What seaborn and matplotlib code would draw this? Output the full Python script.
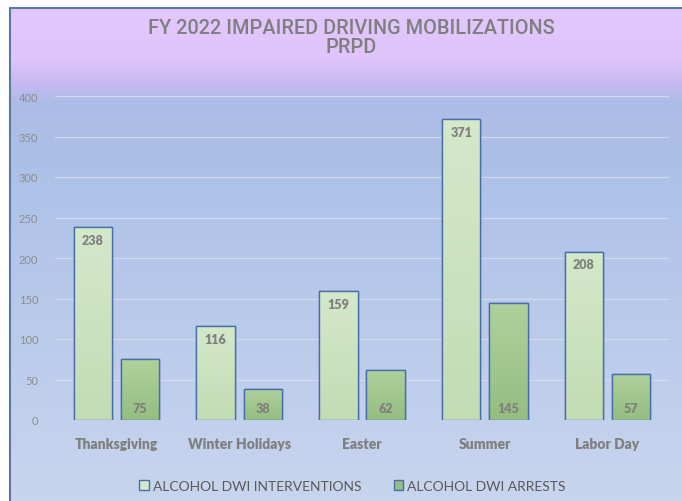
import numpy as np
import pandas as pd
import matplotlib
matplotlib.use("Agg")
import matplotlib.pyplot as plt
import seaborn as sns
from matplotlib.colors import LinearSegmentedColormap
from matplotlib.patches import Rectangle

sns.set_style("white")
plt.rcParams["font.family"] = ["Lato", "DejaVu Sans"]

categories = ["Thanksgiving", "Winter Holidays", "Easter", "Summer", "Labor Day"]
interventions = [238, 116, 159, 371, 208]
arrests = [75, 38, 62, 145, 57]
series = ["ALCOHOL DWI INTERVENTIONS", "ALCOHOL DWI ARRESTS"]
yticks = [0, 50, 100, 150, 200, 250, 300, 350, 400]

df = pd.DataFrame({
    "event": categories * 2,
    "series": [series[0]] * len(categories) + [series[1]] * len(categories),
    "value": interventions + arrests,
})

gray = "#7f7f7f"
edge = "#4a6eaa"
light_green = ("#d4e8ca", "#c2dcb4")
dark_green = ("#afd19c", "#95be80")

fig = plt.figure(figsize=(6.82, 5.02), dpi=100)

# background panel with vertical gradient
bg = fig.add_axes([10 / 682, 0, 1 - 10 / 682, 1 - 9 / 502], zorder=0)
stops = [(0.0, (226, 199, 252)), (0.1, (224, 197, 251)), (0.15, (200, 185, 242)),
         (0.19, (174, 188, 230)), (0.3, (172, 192, 231)), (1.0, (200, 213, 238))]
cmap_bg = LinearSegmentedColormap.from_list(
    "bg", [(p, tuple(c / 255 for c in col)) for p, col in stops])
bg.imshow(np.linspace(0, 1, 256).reshape(-1, 1), aspect="auto", cmap=cmap_bg,
          extent=[0, 1, 0, 1], origin="upper")
bg.set_xlim(0, 1)
bg.set_ylim(0, 1)
bg.axis("off")
fig.add_artist(plt.Line2D([10 / 682, 1], [1 - 9 / 502, 1 - 9 / 502], color="#5b77a8",
                          lw=1.5, transform=fig.transFigure))
fig.add_artist(plt.Line2D([10 / 682, 10 / 682], [0, 1 - 9 / 502], color="#5b77a8",
                          lw=1.5, transform=fig.transFigure))

ax = fig.add_axes([55 / 682, 81 / 502, 614 / 682, 324 / 502], zorder=1)
ax.patch.set_alpha(0)

sns.barplot(data=df, x="event", y="value", hue="series", ax=ax,
            palette=[light_green[1], dark_green[1]], width=0.77, gap=0.19,
            edgecolor=edge, linewidth=1, legend=False)

ax.set_ylim(0, 400)
ax.set_yticks(yticks)
ax.grid(axis="y", color="#d6e0f2", lw=0.9, alpha=0.8)
ax.set_axisbelow(True)
for s in ax.spines.values():
    s.set_visible(False)
ax.set_xlabel("")
ax.set_ylabel("")
ax.tick_params(axis="y", length=0, pad=12, labelsize=8, labelcolor="#8c8c8c")
ax.tick_params(axis="x", length=0, pad=12, labelsize=10, labelcolor=gray)
for lbl in ax.get_xticklabels():
    lbl.set_fontweight("heavy")

# gradient fill inside each bar
for container, cols, vals in zip(ax.containers, [light_green, dark_green],
                                 [interventions, arrests]):
    cm = LinearSegmentedColormap.from_list("g", [cols[0], cols[1]])
    for patch, v in zip(container.patches, vals):
        x0, w = patch.get_x(), patch.get_width()
        im = ax.imshow(np.linspace(0, 1, 64).reshape(-1, 1), aspect="auto", cmap=cm,
                       extent=[x0, x0 + w, 0, patch.get_height()], origin="upper",
                       zorder=patch.get_zorder() + 0.1)
        im.set_clip_path(patch)
        ax.add_patch(Rectangle((x0, 0), w, patch.get_height(), fill=False,
                               edgecolor=edge, lw=1, zorder=patch.get_zorder() + 0.2))
        cx = x0 + w / 2
        if cols is light_green:
            ax.annotate(str(v), xy=(cx, v), xytext=(0, -5), textcoords="offset points",
                        ha="center", va="top", fontsize=9, fontweight="heavy",
                        color=gray, zorder=5)
        else:
            ax.annotate(str(v), xy=(cx, 0), xytext=(0, 4), textcoords="offset points",
                        ha="center", va="bottom", fontsize=9, fontweight="heavy",
                        color=gray, zorder=5)
ax.set_xlim(-0.5, len(categories) - 0.5)

fig.text(0.515, 0.944, "FY 2022 IMPAIRED DRIVING MOBILIZATIONS", ha="center", va="center",
         fontsize=14.3, color=gray, fontweight="medium", family=["Roboto", "DejaVu Sans"])
fig.text(0.515, 0.906, "PRPD", ha="center", va="center", fontsize=14.3, color=gray,
         fontweight="medium", family=["Roboto", "DejaVu Sans"])

handles = [Rectangle((0, 0), 1, 1, facecolor=light_green[0], edgecolor=edge, lw=1),
           Rectangle((0, 0), 1, 1, facecolor=dark_green[1], edgecolor=edge, lw=1)]
fig.legend(handles, series, loc="center", bbox_to_anchor=(0.517, 0.03), ncol=2,
           frameon=False, prop={"size": 10, "weight": "normal"}, labelcolor="#595959",
           handlelength=0.7, handleheight=0.7, handletextpad=0.3, columnspacing=2.3)

fig.savefig("out.png", dpi=100)
